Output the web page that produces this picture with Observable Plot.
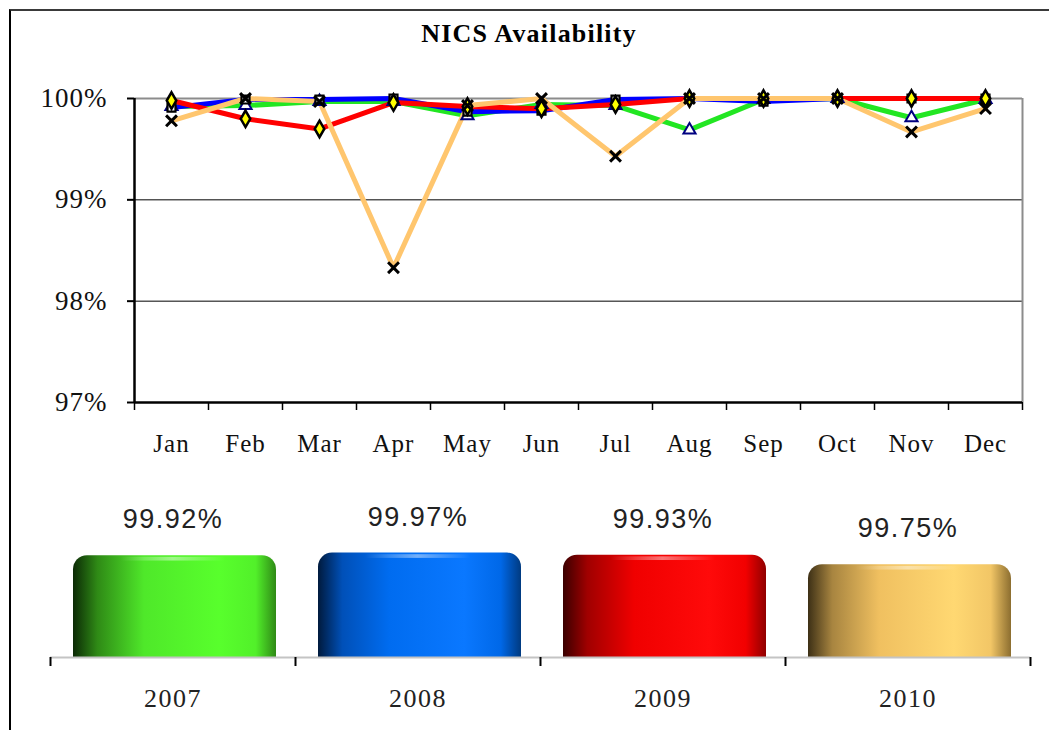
<!DOCTYPE html>
<html><head><meta charset="utf-8">
<script src="https://cdn.jsdelivr.net/npm/d3@7"></script>
<script src="https://cdn.jsdelivr.net/npm/@observablehq/plot@0.6"></script>
<style>
html,body{margin:0;padding:0;background:#fff;overflow:hidden}
#page{position:relative;width:1049px;height:730px;overflow:hidden}
#frame{position:absolute;left:9px;top:9px;width:1100px;height:800px;border-left:2px solid #000;border-top:2px solid #3a3a3a;}
#title{position:absolute;top:19px;left:0;width:1058px;text-align:center;font:bold 26px "Liberation Serif",serif;color:#000;letter-spacing:1.2px}
#line{position:absolute;left:0;top:0}
#bars{position:absolute;left:0;top:470px}
</style></head><body>
<div id="page"><div id="frame"></div><div id="title">NICS Availability</div><div id="line"></div><div id="bars"></div></div>
<script>
const months = ["Jan","Feb","Mar","Apr","May","Jun","Jul","Aug","Sep","Oct","Nov","Dec"];
const years = ["2007","2008","2009","2010"];
const avail2007 = [99.92, 99.93, 99.97, 99.97, 99.83, 99.94, 99.93, 99.69, 99.99, 100.00, 99.81, 99.99];
const avail2008 = [99.91, 99.99, 99.99, 100.00, 99.87, 99.88, 99.99, 100.00, 99.97, 100.00, 100.00, 100.00];
const avail2009 = [99.98, 99.80, 99.70, 99.96, 99.92, 99.90, 99.94, 100.00, 100.00, 100.00, 100.00, 100.00];
const avail2010 = [99.78, 100.00, 99.97, 98.33, 99.93, 100.00, 99.43, 100.00, 100.00, 100.00, 99.67, 99.90];
const yearlyAverage = [99.92, 99.97, 99.93, 99.75];
const seriesColors = ["#22e622", "#0000ff", "#ff0000", "#ffc66e"];
const yTicks = [97, 98, 99, 100];

const seriesValues = [avail2007, avail2008, avail2009, avail2010];
const rows = [];
years.forEach((yr, s) => seriesValues[s].forEach((v, i) => rows.push({i, year: yr, value: v})));
const of = yr => rows.filter(r => r.year === yr);

const serif = '"Liberation Serif", "Times New Roman", serif';

const lineChart = Plot.plot({
  width: 1049, height: 470,
  marginLeft: 134, marginRight: 27, marginTop: 98, marginBottom: 68,
  style: {fontFamily: serif, fontSize: "25px", color: "#111", background: "transparent", overflow: "visible", letterSpacing: "1px"},
  x: {type: "linear", domain: [-0.5, 11.5], label: null},
  y: {domain: [97, 100], label: null},
  color: {domain: years, range: seriesColors},
  marks: [
    Plot.ruleY([98, 99], {stroke: "#000", strokeWidth: 1}),
    Plot.ruleY([100], {stroke: "#8c8c8c", strokeWidth: 2}),
    Plot.ruleX([11.5], {y1: 97, y2: 100, stroke: "#8c8c8c", strokeWidth: 2}),
    Plot.line(rows, {x: "i", y: "value", z: "year", stroke: "year", strokeWidth: 5}),
    Plot.ruleX([-0.5], {y1: 97, y2: 100, stroke: "#000", strokeWidth: 2.5}),
    Plot.ruleY([97], {stroke: "#000", strokeWidth: 2.5}),
    Plot.axisY({ticks: yTicks, tickFormat: d => d + "%", tickSize: 7, tickPadding: 20, strokeWidth: 2, stroke: "#000", fontSize: 27}),
    Plot.axisX({ticks: d3.range(13).map(i => i - 0.5), tickFormat: () => "", tickSize: 8, strokeWidth: 1.5, stroke: "#000"}),
    Plot.axisX({ticks: d3.range(12), tickFormat: i => months[i], tickSize: 0, tickPadding: 32, fontSize: 25}),
    Plot.dot(of("2007"), {x: "i", y: "value", symbol: "triangle", r: 4.5, fill: "#fff", stroke: "#000080", strokeWidth: 2}),
    Plot.dot(of("2008"), {x: "i", y: "value", symbol: "square", r: 4.5, fill: "#fff", stroke: "#000", strokeWidth: 2.2}),
    Plot.dot(of("2009"), {x: "i", y: "value", symbol: "diamond", r: 5, fill: "#ffff00", stroke: "#000", strokeWidth: 2.5}),
    Plot.dot(of("2010"), {x: "i", y: "value", symbol: "times", r: 5, stroke: "#000", strokeWidth: 3})
  ]
});
document.getElementById("line").appendChild(lineChart);

const barRows = years.map((yr, i) => ({i, year: yr, value: yearlyAverage[i]}));
const barInset = {insetLeft: 23, insetRight: 19};
const barChart = Plot.plot({
  width: 1049, height: 260,
  marginLeft: 50, marginRight: 19, marginTop: 81, marginBottom: 73,
  style: {fontFamily: serif, fontSize: "26px", color: "#222", background: "transparent", overflow: "visible", letterSpacing: "1.5px"},
  x: {type: "linear", domain: [-0.5, 3.5], label: null},
  y: {domain: [98, 100], label: null, axis: null},
  color: {type: "identity"},
  marks: [
    Plot.rectY(barRows, {x1: d => d.i - 0.5, x2: d => d.i + 0.5, y1: 98, y2: "value", ...barInset, rx: 14, fill: d => `url(#grad${d.year})`}),
    Plot.rectY(barRows, {x1: d => d.i - 0.5, x2: d => d.i + 0.5, y1: 98, y2: d => d.value - 0.6, ...barInset, fill: d => `url(#grad${d.year})`}),
    Plot.rectY(barRows, {x1: d => d.i - 0.5, x2: d => d.i + 0.5, y1: d => d.value - 0.1, y2: d => d.value - 0.03, ...barInset, insetLeft: 70, insetRight: 70, fill: "url(#shine)"}),
    Plot.ruleY([98], {stroke: "#c4c4c4", strokeWidth: 2}),
    Plot.axisX({ticks: [-0.5, 0.5, 1.5, 2.5, 3.5], tickFormat: () => "", tickSize: 9, strokeWidth: 2, stroke: "#000"}),
    Plot.axisX({ticks: [0, 1, 2, 3], tickFormat: i => years[i], tickSize: 0, tickPadding: 31}),
    Plot.text(barRows, {x: "i", y: "value", text: d => d.value.toFixed(2) + "%", dy: -36, fontFamily: '"Liberation Sans", Arial, sans-serif', fontSize: 27, fill: "#222"})
  ]
});
const gradSpecs = {
  "2007": ["#0c2a06", "#2f8a16", "#4fe82a", "#58ff2c", "#52f02a", "#2f8a16"],
  "2008": ["#001a3d", "#0050b8", "#006cf0", "#0a78ff", "#0068e8", "#003a80"],
  "2009": ["#3a0000", "#a00000", "#f00000", "#ff0a0a", "#f20000", "#900000"],
  "2010": ["#3d3016", "#a88540", "#f0c060", "#ffd872", "#f2c666", "#8c6e30"]
};
const offsets = [0, 0.12, 0.35, 0.72, 0.9, 1];
const svg = d3.select(barChart);
const defs = svg.insert("defs", ":first-child");
Object.entries(gradSpecs).forEach(([yr, cols]) => {
  const g = defs.append("linearGradient").attr("id", "grad" + yr).attr("x1", 0).attr("x2", 1).attr("y1", 0).attr("y2", 0);
  cols.forEach((c, k) => g.append("stop").attr("offset", offsets[k]).attr("stop-color", c));
});
const shine = defs.append("linearGradient").attr("id", "shine").attr("x1", 0).attr("x2", 1).attr("y1", 0).attr("y2", 0);
shine.append("stop").attr("offset", 0).attr("stop-color", "#fff").attr("stop-opacity", 0);
shine.append("stop").attr("offset", 0.5).attr("stop-color", "#fff").attr("stop-opacity", 0.45);
shine.append("stop").attr("offset", 1).attr("stop-color", "#fff").attr("stop-opacity", 0);
document.getElementById("bars").appendChild(barChart);
</script>
</body></html>
